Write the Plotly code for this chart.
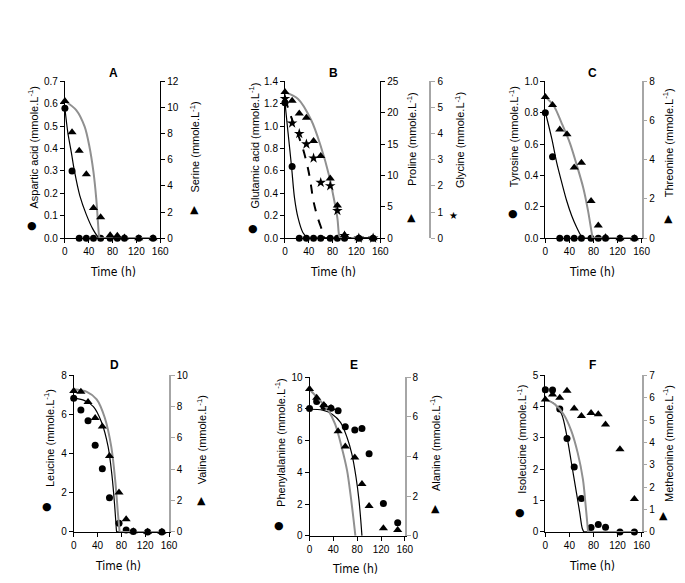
import plotly.graph_objects as go

# ---------------- data ----------------
t = [0, 12, 24, 36, 48, 60, 76, 88, 100, 124, 148]

# Panel A
A_asp = [0.58, 0.30, 0, 0, 0, 0, 0, 0, 0, 0, 0]
A_ser = [10.5, 8.1, 6.7, 4.9, 2.3, 1.6, 0.22, 0.18, 0.05, 0, 0]
A_asp_fit_t = [0, 5, 11, 16, 25, 36, 47, 55, 60, 150]
A_asp_fit = [0.58, 0.47, 0.38, 0.30, 0.19, 0.105, 0.04, 0.008, 0, 0]
A_ser_fit_t = [0, 19, 33, 41, 48, 52.6, 55, 57, 58, 150]
A_ser_fit = [10.5, 9.8, 8.55, 7.05, 5.05, 3.05, 1.55, 0.3, 0, 0]

# Panel B
B_glu = [1.21, 0.64, 0, 0, 0, 0, 0, 0, 0, 0, 0]
B_pro = [23.3, 21.9, 19.9, 19.2, 15.5, 13.1, 9.5, 5.2, 0.5, 0, 0]
B_gly = [5.34, 4.4, 4.0, 3.6, 3.06, 2.13, 2.0, 1.05, 0.09, 0, 0]
B_glu_fit_t = [0, 5, 11, 16, 22, 30, 38, 150]
B_glu_fit = [1.21, 0.95, 0.64, 0.36, 0.18, 0.05, 0, 0]
B_pro_fit_t = [0, 22, 44, 60, 74, 82, 88, 91, 93, 150]
B_pro_fit = [23.3, 22.2, 18.85, 14.7, 10.0, 6.35, 3.2, 0.4, 0, 0]
B_gly_fit_t = [0, 11, 23, 32, 41, 48, 55, 63, 66, 150]
B_gly_fit = [5.34, 4.6, 3.9, 3.28, 2.4, 1.4, 0.78, 0.25, 0, 0]

# Panel C
C_tyr = [0.80, 0.52, 0, 0, 0, 0, 0, 0, 0, 0, 0]
C_thr = [7.2, 6.8, 5.55, 5.3, 3.6, 3.85, 1.9, 0.65, 0.05, 0, 0]
C_tyr_fit_t = [0, 11, 19, 27.4, 35.6, 43.8, 52, 59, 63, 150]
C_tyr_fit = [0.805, 0.63, 0.48, 0.353, 0.237, 0.143, 0.069, 0.017, 0, 0]
C_thr_fit_t = [0, 13.7, 27.4, 41, 52, 63, 71, 76, 78.5, 150]
C_thr_fit = [7.2, 6.77, 5.85, 4.84, 3.75, 2.57, 1.39, 0.47, 0, 0]

# Panel D
D_leu = [6.82, 6.22, 5.68, 4.43, 3.22, 1.75, 0.45, 0.1, 0.02, 0, 0]
D_val = [9.0, 8.94, 8.29, 7.27, 6.73, 4.85, 2.52, 0.81, 0.04, 0.02, 0.02]
D_leu_fit_t = [0, 16.5, 33, 46.7, 57.7, 64.3, 68.7, 71.4, 72, 150]
D_leu_fit = [6.82, 6.73, 6.4, 5.6, 4.35, 2.85, 1.35, 0.18, 0, 0]
D_val_fit_t = [0, 22, 38.5, 52, 63, 70, 74, 77, 150]
D_val_fit = [9.1, 8.94, 8.46, 7.3, 5.44, 3.15, 1.27, 0, 0]

# Panel E
E_phe = [8.02, 8.47, 8.16, 8.04, 7.88, 6.88, 6.67, 6.77, 5.17, 2.04, 0.83]
E_ala = [7.4, 6.97, 6.6, 6.45, 5.28, 4.5, 3.95, 2.62, 1.5, 0.38, 0.3]
E_phe_fit_t = [0, 22, 38, 52, 63, 71, 78, 83, 86, 88]
E_phe_fit = [7.98, 7.92, 7.67, 7.15, 6.2, 5.17, 3.71, 2.25, 1.0, 0]
E_ala_fit_t = [0, 16, 32, 43, 54, 63, 68.6, 74, 77]
E_ala_fit = [7.38, 6.88, 6.3, 5.63, 4.47, 3.3, 2.13, 0.8, 0]

# Panel F
F_ile = [4.54, 4.53, 3.92, 2.98, 2.07, 1.07, 0.14, 0.24, 0.15, 0, 0]
F_met = [5.92, 6.14, 5.99, 6.31, 5.51, 5.18, 5.31, 5.26, 4.8, 3.69, 1.47]
F_ile_fit_t = [0, 16, 27, 35, 43.4, 51.6, 57, 61.4, 64, 150]
F_ile_fit = [4.25, 4.07, 3.76, 3.14, 2.2, 1.26, 0.64, 0.11, 0, 0]
F_met_fit_t = [0, 16, 30, 43, 54, 62.5, 67, 70, 71, 150]
F_met_fit = [5.92, 5.7, 5.27, 4.53, 3.51, 2.35, 1.18, 0.31, 0, 0]

x_ticks = [0, 40, 80, 120, 160]

# ---------------- layout helpers ----------------
W, H = 685, 583
FONT = 'Liberation Sans, Arial, sans-serif'
NARROW = 'Liberation Sans Narrow, Arial Narrow, DejaVu Sans Condensed, Liberation Sans, sans-serif'
GREY = '#909090'
AXGREY = '#a6a6a6'


def px(v):
    return v / W


def py(v):
    return 1 - v / H


panels = [
    dict(letter='A', box=(63, 160, 77, 237),
         L=dict(pts=A_asp, ft=A_asp_fit_t, fv=A_asp_fit, rng=[0, 0.7], dt=0.1, fmt='.1f',
                title='Aspartic acid (mmole.L<sup>-1</sup>)', tx=31, ty=144, sym='●', sx=30, sy=224),
         R=dict(pts=A_ser, ft=A_ser_fit_t, fv=A_ser_fit, rng=[0, 12], dt=2, fmt='',
                title='Serine (mmole.L<sup>-1</sup>)', tx=195, ty=144, sym='▲', sx=195, sy=208, lc='black'),
         lx=112, ly=68, time=(112, 272)),
    dict(letter='B', box=(287, 384, 77, 237),
         L=dict(pts=B_glu, ft=B_glu_fit_t, fv=B_glu_fit, rng=[0, 1.4], dt=0.2, fmt='.1f',
                title='Glutamic acid (mmole.L<sup>-1</sup>)', tx=256, ty=143, sym='●', sx=254, sy=227),
         R=dict(pts=B_pro, ft=B_pro_fit_t, fv=B_pro_fit, rng=[0, 25], dt=5, fmt='',
                title='Proline (mmole.L<sup>-1</sup>)', tx=416, ty=136, sym='▲', sx=416, sy=216, lc='black'),
         lx=336, ly=68, time=(336, 272)),
    dict(letter='C', box=(552, 650, 77, 237),
         L=dict(pts=C_tyr, ft=C_tyr_fit_t, fv=C_tyr_fit, rng=[0, 1.0], dt=0.2, fmt='.1f',
                title='Tyrosine (mmole.L<sup>-1</sup>)', tx=520, ty=133, sym='●', sx=519, sy=212),
         R=dict(pts=C_thr, ft=C_thr_fit_t, fv=C_thr_fit, rng=[0, 8], dt=2, fmt='',
                title='Threonine (mmole.L<sup>-1</sup>)', tx=677, ty=140, sym='▲', sx=677, sy=217, lc=AXGREY),
         lx=600, ly=68, time=(600, 272)),
    dict(letter='D', box=(72, 169, 377, 537),
         L=dict(pts=D_leu, ft=D_leu_fit_t, fv=D_leu_fit, rng=[0, 8], dt=2, fmt='',
                title='Leucine (mmole.L<sup>-1</sup>)', tx=47, ty=441, sym='●', sx=45, sy=511),
         R=dict(pts=D_val, ft=D_val_fit_t, fv=D_val_fit, rng=[0, 10], dt=2, fmt='',
                title='Valine (mmole.L<sup>-1</sup>)', tx=202, ty=443, sym='▲', sx=202, sy=505, lc=AXGREY),
         lx=113, ly=367, time=(117, 572)),
    dict(letter='E', box=(312, 409, 379, 541),
         L=dict(pts=E_phe, ft=E_phe_fit_t, fv=E_phe_fit, rng=[0, 10], dt=2, fmt='',
                title='Phenylalanine (mmole.L<sup>-1</sup>)', tx=282, ty=446, sym='●', sx=281, sy=530),
         R=dict(pts=E_ala, ft=E_ala_fit_t, fv=E_ala_fit, rng=[0, 8], dt=2, fmt='',
                title='Alanine (mmole.L<sup>-1</sup>)', tx=440, ty=446, sym='▲', sx=440, sy=513, lc=AXGREY),
         lx=357, ly=367, time=(358, 575)),
    dict(letter='F', box=(552, 650, 377, 537),
         L=dict(pts=F_ile, ft=F_ile_fit_t, fv=F_ile_fit, rng=[0, 5], dt=1, fmt='',
                title='Isoleucine (mmole.L<sup>-1</sup>)', tx=528, ty=442, sym='●', sx=526, sy=517),
         R=dict(pts=F_met, ft=F_met_fit_t, fv=F_met_fit, rng=[0, 7], dt=1, fmt='',
                title='Metheonine (mmole.L<sup>-1</sup>)', tx=677, ty=447, sym='▲', sx=672, sy=520, lc=AXGREY),
         lx=600, ly=367, time=(600, 572)),
]

fig = go.Figure()
layout = dict(width=W, height=H, margin=dict(l=0, r=0, t=0, b=0),
              paper_bgcolor='white', plot_bgcolor='rgba(0,0,0,0)', showlegend=False,
              font=dict(family=FONT, size=10, color='black'))
annotations = []


def add_fit(tt, vv, xref, yref, color, width, dash='solid'):
    # descending part drawn smooth, flat tail (after first zero) drawn straight
    k = vv.index(0) if 0 in vv else len(vv) - 1
    fig.add_trace(go.Scatter(x=tt[:k + 1], y=vv[:k + 1], mode='lines', xaxis=xref, yaxis=yref,
                             line=dict(color=color, width=width, shape='spline', smoothing=0.9, dash=dash),
                             cliponaxis=False, hoverinfo='skip'))
    if k < len(vv) - 1:
        fig.add_trace(go.Scatter(x=tt[k:], y=vv[k:], mode='lines', xaxis=xref, yaxis=yref,
                                 line=dict(color=color, width=width, dash=dash), hoverinfo='skip'))


for i, p in enumerate(panels):
    xn = i + 1
    yl = 2 * i + 1
    yr = 2 * i + 2
    xref = 'x' if xn == 1 else f'x{xn}'
    ylref = 'y' if yl == 1 else f'y{yl}'
    yrref = f'y{yr}'
    xkey = 'xaxis' if xn == 1 else f'xaxis{xn}'
    ylkey = 'yaxis' if yl == 1 else f'yaxis{yl}'
    yrkey = f'yaxis{yr}'
    x0, x1, y0, y1 = p['box']
    layout[xkey] = dict(domain=[px(x0), px(x1)], range=[0, 160], tickvals=x_ticks, anchor=ylref,
                        showline=True, linecolor='black', linewidth=1, ticks='outside', ticklen=4,
                        tickcolor='black', showgrid=False, zeroline=False, fixedrange=True)
    L, R = p['L'], p['R']
    layout[ylkey] = dict(domain=[py(y1), py(y0)], range=L['rng'], dtick=L['dt'], tick0=0,
                         tickformat=L['fmt'], anchor=xref, side='left', showline=True,
                         linecolor='black', linewidth=1, ticks='outside', ticklen=4, tickcolor='black',
                         showgrid=False, zeroline=False, fixedrange=True)
    layout[yrkey] = dict(domain=[py(y1), py(y0)], range=R['rng'], dtick=R['dt'], tick0=0,
                         tickformat=R['fmt'], anchor=xref, overlaying=ylref, side='right',
                         showline=True, linecolor=R['lc'], linewidth=1.5 if R['lc'] != 'black' else 1,
                         ticks='outside', ticklen=4, tickcolor=R['lc'], showgrid=False,
                         zeroline=False, fixedrange=True)

    # fitted curves
    add_fit(R['ft'], R['fv'], xref, yrref, GREY, 2)
    add_fit(L['ft'], L['fv'], xref, ylref, 'black', 1.2)
    if p['letter'] == 'B':
        layout['yaxis13'] = dict(domain=[py(y1), py(y0)], range=[0, 6], dtick=1, tick0=0,
                                 anchor='free', position=px(435), overlaying=ylref, side='right',
                                 showline=True, linecolor=AXGREY, linewidth=2, ticks='outside',
                                 ticklen=4, tickcolor=AXGREY, showgrid=False, zeroline=False,
                                 fixedrange=True)
        add_fit(B_gly_fit_t, B_gly_fit, xref, 'y13', 'black', 2, dash='dash')

    # measured points
    fig.add_trace(go.Scatter(x=t, y=R['pts'], mode='markers', xaxis=xref, yaxis=yrref, cliponaxis=False,
                             marker=dict(symbol='triangle-up', size=8, color='black')))
    if p['letter'] == 'B':
        fig.add_trace(go.Scatter(x=t, y=B_gly, mode='markers', xaxis=xref, yaxis='y13', cliponaxis=False,
                                 marker=dict(symbol='star', size=8, color='black')))
    fig.add_trace(go.Scatter(x=t, y=L['pts'], mode='markers', xaxis=xref, yaxis=ylref, cliponaxis=False,
                             marker=dict(symbol='circle', size=7, color='black')))

    # texts
    annotations.append(dict(text=f"<b>{p['letter']}</b>", x=px(p['lx']), y=py(p['ly']), xref='paper',
                            yref='paper', showarrow=False, xanchor='center', yanchor='middle',
                            font=dict(size=12, family=FONT)))
    annotations.append(dict(text='Time (h)', x=px(p['time'][0]), y=py(p['time'][1]), xref='paper',
                            yref='paper', showarrow=False, xanchor='center', yanchor='middle',
                            font=dict(size=12, family=NARROW)))
    for side in (L, R):
        annotations.append(dict(text=side['title'], x=px(side['tx']), y=py(side['ty']), xref='paper',
                                yref='paper', showarrow=False, textangle=-90, xanchor='center',
                                yanchor='middle', font=dict(size=11, family=FONT)))
        annotations.append(dict(text=side['sym'], x=px(side['sx']), y=py(side['sy']), xref='paper',
                                yref='paper', showarrow=False, xanchor='center', yanchor='middle',
                                font=dict(size=11, family='DejaVu Sans')))

# glycine axis title and key
annotations.append(dict(text='Glycine (mmole.L<sup>-1</sup>)', x=px(465), y=py(137), xref='paper',
                        yref='paper', showarrow=False, textangle=-90, xanchor='center',
                        yanchor='middle', font=dict(size=11, family=FONT)))
annotations.append(dict(text='★', x=px(459), y=py(214), xref='paper', yref='paper', showarrow=False,
                        xanchor='center', yanchor='middle', font=dict(size=10, family='DejaVu Sans')))

layout['annotations'] = annotations
fig.update_layout(**layout)
fig.write_html('out.html', config={'displayModeBar': False},
               post_script="document.body.style.margin='0px';document.body.style.padding='0px';")
